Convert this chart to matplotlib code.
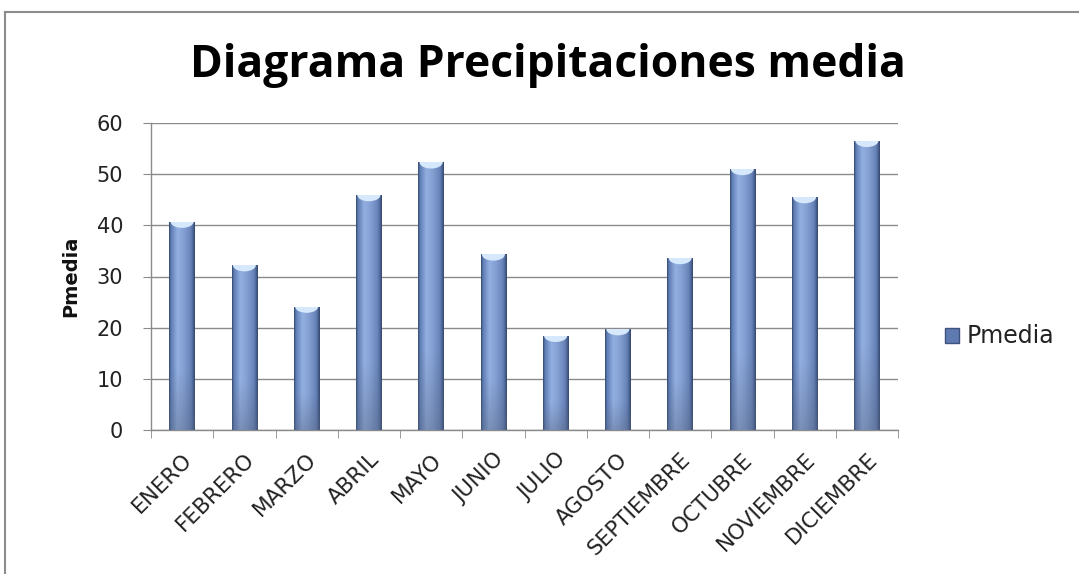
import numpy as np
import matplotlib
matplotlib.use("Agg")
import matplotlib.pyplot as plt
from matplotlib.colors import LinearSegmentedColormap, to_rgb
from matplotlib.patches import Ellipse, Patch
from matplotlib.lines import Line2D

# Monthly mean precipitation
months = ["ENERO", "FEBRERO", "MARZO", "ABRIL", "MAYO", "JUNIO", "JULIO",
          "AGOSTO", "SEPTIEMBRE", "OCTUBRE", "NOVIEMBRE", "DICIEMBRE"]
pmedia = [40.7, 32.2, 24.1, 45.9, 52.3, 34.3, 18.4, 19.7, 33.6, 51.0, 45.5, 56.5]
y_ticks = [0, 10, 20, 30, 40, 50, 60]

W, H = 1079, 574
fig = plt.figure(figsize=(W / 100, H / 100), dpi=100)
fig.patch.set_facecolor("white")

ax = fig.add_axes([151 / W, 1 - 430 / H, (898 - 151) / W, (430 - 123) / H])
x = np.arange(len(months))
grid_col = "#8a8a8a"

ax.set_xlim(-0.5, len(months) - 0.5)
ax.set_ylim(0, 60)
ax.set_yticks(y_ticks)
ax.yaxis.grid(True, color=grid_col, linewidth=1.0)
ax.set_axisbelow(True)
for s in ["top", "right"]:
    ax.spines[s].set_visible(False)
for s in ["left", "bottom"]:
    ax.spines[s].set_color(grid_col)
    ax.spines[s].set_linewidth(1.0)

tick_font = ["DejaVu Sans"]
ax.tick_params(axis="y", length=6, color=grid_col, labelsize=15,
               labelcolor="#222222", pad=14)
for t in ax.get_yticklabels():
    t.set_family(tick_font)

ax.set_xticks(x)
ax.set_xticklabels(months, rotation=45, ha="right", rotation_mode="anchor",
                   fontsize=15.5, color="#222222", family=tick_font)
ax.tick_params(axis="x", which="major", length=0, pad=14)
ax.set_xticks(np.arange(-0.5, len(months), 1.0), minor=True)
ax.tick_params(axis="x", which="minor", length=6, color=grid_col)

ax.set_ylabel("Pmedia", fontsize=14, fontweight="bold", color="#111111",
              family=["DejaVu Sans"], labelpad=12)

# Cylinder-like shading across each bar
profile = LinearSegmentedColormap.from_list("bar_shade", [
    (0.00, "#34496f"), (0.07, "#5f7db4"), (0.32, "#93afe1"),
    (0.55, "#86a2d5"), (0.85, "#6783b8"), (0.94, "#4c6495"),
    (1.00, "#33466b")])
nu, nv = 64, 128
u = np.linspace(0, 1, nu)
v = np.linspace(0, 1, nv)[:, None]
base = profile(u)[None, :, :3]
dark = np.array(to_rgb("#56647f"))
mix = np.clip((0.3 - v) / 0.3, 0, 1) * 0.4
shade = base * (1 - mix[..., None]) + dark * mix[..., None]

bar_w = 0.41
bars = ax.bar(x, pmedia, width=bar_w, color="#6f8cc2", edgecolor="none",
              zorder=2, label="Pmedia")
for b, val in zip(bars, pmedia):
    x0, w = b.get_x(), b.get_width()
    im = ax.imshow(shade, extent=[x0, x0 + w, 0, val], origin="lower",
                   aspect="auto", zorder=3, interpolation="bilinear")
    im.set_clip_path(b)
    cap = Ellipse((x0 + w / 2, val), w * 0.9, 2.4, facecolor="#d6e8fc",
                  edgecolor="none", zorder=4)
    ax.add_patch(cap)
    cap.set_clip_path(b)

leg = ax.legend(handles=[Patch(facecolor="#5f7ab0", edgecolor="#3d527c",
                               label="Pmedia")],
                loc="center left", bbox_to_anchor=(1.034, 0.305), frameon=False,
                handlelength=0.6, handleheight=0.6, handletextpad=0.35,
                prop={"family": tick_font, "size": 17})
for t in leg.get_texts():
    t.set_color("#222222")

ax.set_aspect("auto")

# Title sized to span the header width
title = fig.text(548 / W, 1 - 65 / H, "Diagrama Precipitaciones media",
                 ha="center", va="center", fontsize=30, fontweight="bold",
                 family=["Open Sans", "DejaVu Sans"], color="#000000")
fig.canvas.draw()
tw = title.get_window_extent().width
title.set_fontsize(30 * 715 / tw)

# Chart area border
border = "#8c8c8c"
fig.add_artist(Line2D([5 / W, 5 / W], [0, 1 - 12 / H], transform=fig.transFigure,
                      color=border, linewidth=1.5))
fig.add_artist(Line2D([5 / W, 1], [1 - 12 / H, 1 - 12 / H],
                      transform=fig.transFigure, color=border, linewidth=1.5))

fig.savefig("out.png", dpi=100, facecolor="white")
